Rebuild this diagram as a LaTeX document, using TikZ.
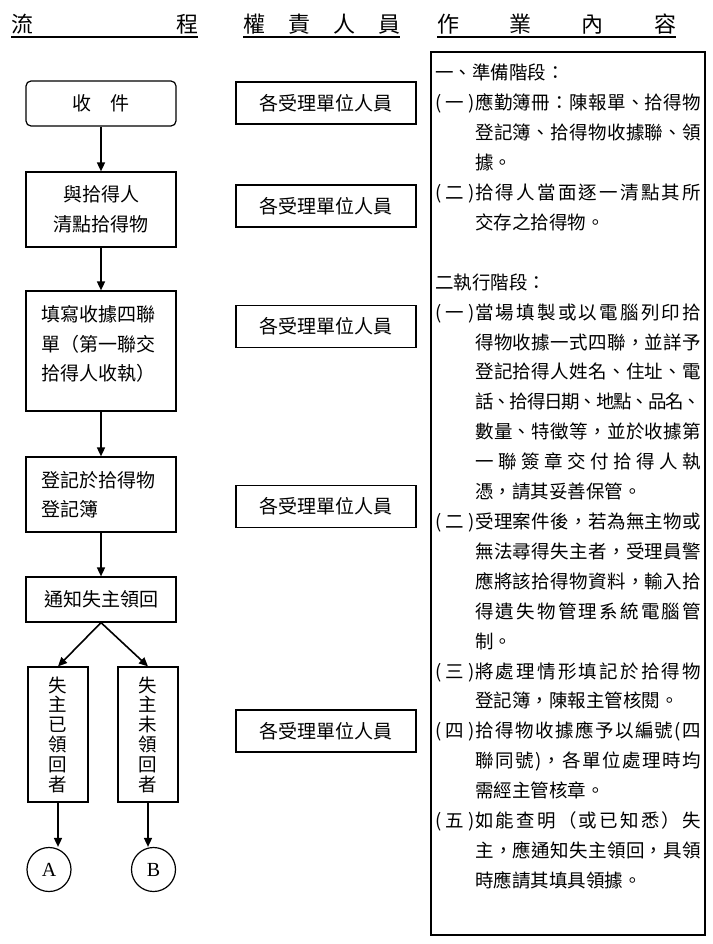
\documentclass[tikz,border=0pt]{standalone}
\usepackage{fontspec}
\setmainfont{Noto Sans CJK TC}
\newfontfamily\latinserif{Liberation Serif}
\usepackage{xcolor}
\usepackage{tikz}
\usetikzlibrary{arrows.meta,positioning}

\XeTeXinterchartokenstate=1
\makeatletter
\count@="3000 \loop\XeTeXcharclass\count@=1 \advance\count@ by 1 \ifnum\count@<"3040 \repeat
\count@="4E00 \loop\XeTeXcharclass\count@=1 \advance\count@ by 1 \ifnum\count@<"A000 \repeat
\count@="FF00 \loop\XeTeXcharclass\count@=1 \advance\count@ by 1 \ifnum\count@<"FFF0 \repeat
\makeatother
\XeTeXcharclass`(=0 \XeTeXcharclass`)=0
\XeTeXinterchartoks 1 1 = {\nobreak\hskip 0pt plus 8pt minus 1.5pt\relax}
\XeTeXinterchartoks 0 1 = {\nobreak\hskip 0pt plus 8pt minus 1.5pt\relax}
\XeTeXinterchartoks 1 0 = {\nobreak\hskip 0pt plus 8pt minus 1.5pt\relax}
\tolerance=10000
\hbadness=10000
\newcommand\itemlabel[1]{\noindent\hangindent=40pt\hangafter=1\makebox[40pt][s]{#1}}

\begin{document}
\begin{tikzpicture}[x=1pt, y=-1pt,
    font=\fontsize{19}{29.5}\selectfont,
    >={Triangle[length=9pt,width=8pt]},
    headtext/.style={anchor=base west, inner xsep=0pt, inner ysep=2pt, font=\fontsize{22}{26}\selectfont},
    headrule/.style={line width=2.2pt},
    flowbox/.style={draw, line width=1.2pt, minimum width=150pt, align=center},
    startbox/.style={flowbox, rounded corners=5pt, minimum height=45pt},
    notebox/.style={flowbox, align=left, text width=120pt},
    ownerbox/.style={draw, line width=1.2pt, minimum width=60pt, minimum height=135pt, align=center, font=\fontsize{18.5}{19.8}\selectfont},
    dutybox/.style={draw, line width=1.2pt, minimum width=180pt, minimum height=42pt},
    connector/.style={draw, circle, line width=1.2pt, minimum size=44pt, inner sep=0pt, font=\latinserif\fontsize{20}{20}\selectfont},
    tasktext/.style={anchor=base west, inner sep=0pt, text width=266pt, align=justify, font=\fontsize{18.5}{29.9}\selectfont},
    arrow/.style={->, line width=1.6pt}
  ]
    \useasboundingbox (0,0) rectangle (712,944);

    \node[headtext] (hflow) at (11,33) {\makebox[187pt]{流\hfill 程}};
    \node[headtext] (hduty) at (243,33) {\makebox[157pt]{權\hfill 責\hfill 人\hfill 員}};
    \node[headtext] (htask) at (437,33) {\makebox[239pt]{作\hfill 業\hfill 內\hfill 容}};
    \draw[headrule] (hflow.south west) -- (hflow.south east);
    \draw[headrule] (hduty.south west) -- (hduty.south east);
    \draw[headrule] (htask.south west) -- (htask.south east);

    \node[startbox] (receive) at (101,103.5) {收　件};
    \node[flowbox, minimum height=75pt] (count) at (101,209.5) {與拾得人\\清點拾得物};
    \node[notebox, minimum height=120pt] (receipt) at (101,351) {填寫收據四聯\\單（第一聯交\\拾得人收執）\\[-13.5pt]\mbox{}};
    \node[notebox, minimum height=75pt] (register) at (101,494.5) {登記於拾得物\\登記簿};
    \node[flowbox, minimum height=45pt] (notify) at (101,599.5) {通知失主領回};
    \node[ownerbox] (claimed) at (58,734.5) {失\\主\\已\\領\\回\\者};
    \node[ownerbox] (unclaimed) at (148,734.5) {失\\主\\未\\領\\回\\者};
    \node[connector] (conA) at (49,869.5) {A};
    \node[connector] (conB) at (153.5,869.5) {B};

    \node[dutybox] (duty1) at (326,103) {各受理單位人員};
    \node[dutybox] (duty2) at (326,206) {各受理單位人員};
    \node[dutybox] (duty3) at (326,326.5) {各受理單位人員};
    \node[dutybox] (duty4) at (326,506.5) {各受理單位人員};
    \node[dutybox] (duty5) at (326,731) {各受理單位人員};

    \draw[line width=1.2pt] (431,52) rectangle (705,935);
    \node[tasktext] (task) at (435,80) {%
一、準備階段：\par
\itemlabel{(一)}應勤簿冊：陳報單、拾得物\linebreak 登記簿、拾得物收據聯、領\linebreak 據。\par
\itemlabel{(二)}拾得人當面逐一清點其所\linebreak 交存之拾得物。\par
\mbox{}\par
二執行階段：\par
\itemlabel{(一)}當場填製或以電腦列印拾\linebreak 得物收據一式四聯，並詳予\linebreak 登記拾得人姓名、住址、電\linebreak 話、拾得日期、地點、品名、\linebreak 數量、特徵等，並於收據第\linebreak 一聯簽章交付拾得人執\linebreak 憑，請其妥善保管。\par
\itemlabel{(二)}受理案件後，若為無主物或\linebreak 無法尋得失主者，受理員警\linebreak 應將該拾得物資料，輸入拾\linebreak 得遺失物管理系統電腦管\linebreak 制。\par
\itemlabel{(三)}將處理情形填記於拾得物\linebreak 登記簿，陳報主管核閱。\par
\itemlabel{(四)}拾得物收據應予以編號(四\linebreak 聯同號)，各單位處理時均\linebreak 需經主管核章。\par
\itemlabel{(五)}如能查明（或已知悉）失\linebreak 主，應通知失主領回，具領\linebreak 時應請其填具領據。\par};

    \draw[arrow] (receive) -- (count);
    \draw[arrow] (count) -- (receipt);
    \draw[arrow] (receipt) -- (register);
    \draw[arrow] (register) -- (notify);
    \draw[arrow] (notify.south) -- (claimed.north);
    \draw[arrow] (notify.south) -- (unclaimed.north);
    \draw[arrow] (claimed.south) -- (claimed.south |- conA.north);
    \draw[arrow] (unclaimed.south) -- (unclaimed.south |- conB.north);
  \end{tikzpicture}
\end{document}
